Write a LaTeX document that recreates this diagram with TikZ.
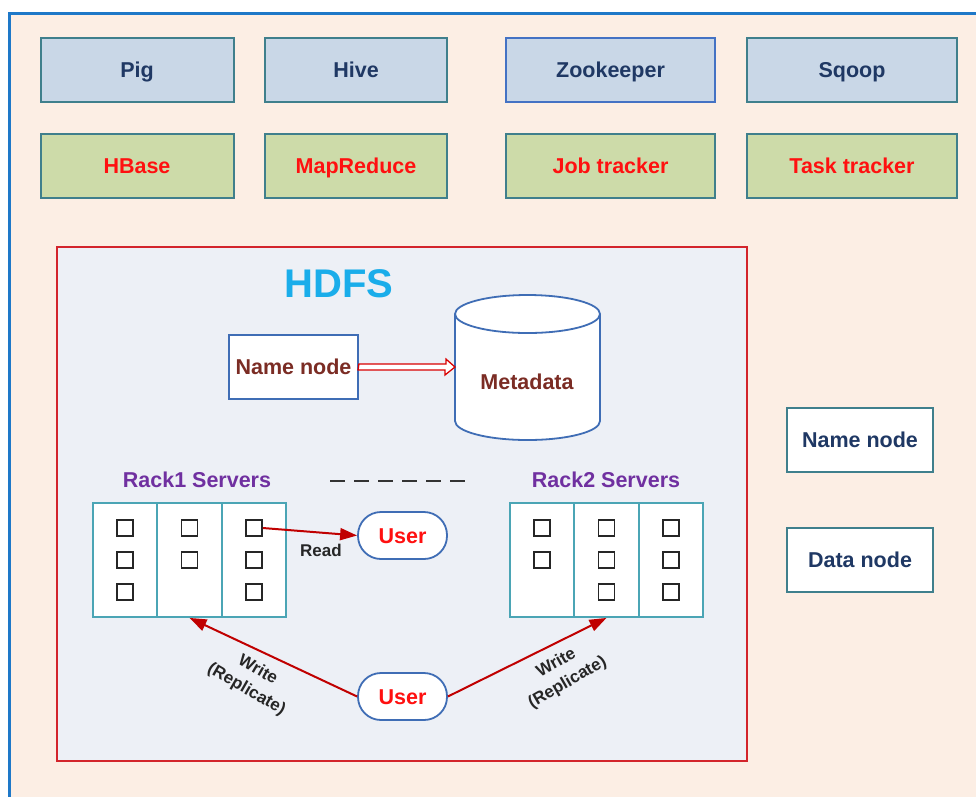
\documentclass[tikz,border=0pt]{standalone}
\usepackage{fontspec}
\setmainfont{Liberation Sans}
\usetikzlibrary{arrows.meta}
\definecolor{peach}{HTML}{FCEEE4}
\definecolor{outerblue}{HTML}{1E78C8}
\definecolor{topblue}{HTML}{C9D7E7}
\definecolor{topgreen}{HTML}{CDDBA9}
\definecolor{boxteal}{HTML}{3F7F8C}
\definecolor{zkblue}{HTML}{4472C4}
\definecolor{darkblue}{HTML}{1F3864}
\definecolor{txtred}{HTML}{FF1010}
\definecolor{hdfsred}{HTML}{D3242B}
\definecolor{hdfsbg}{HTML}{EDF0F6}
\definecolor{hdfscyan}{HTML}{1AADEA}
\definecolor{nnblue}{HTML}{3F6DB5}
\definecolor{brown}{HTML}{7B2C24}
\definecolor{purp}{HTML}{7030A0}
\definecolor{rackteal}{HTML}{4BA5B5}
\definecolor{arrowred}{HTML}{C00000}
\definecolor{dashgray}{HTML}{333333}
\tikzset{
  bigfont/.style={font=\fontsize{21.5}{25}\selectfont\bfseries, text height=15.5pt, text depth=0pt},
  topbox/.style={draw=boxteal, line width=2pt, fill=topblue, minimum height=64pt, inner sep=0pt, text=darkblue, bigfont},
  greenbox/.style={draw=boxteal, line width=2pt, fill=topgreen, minimum height=64pt, inner sep=0pt, text=txtred, bigfont},
  sidebox/.style={draw=boxteal, line width=2pt, fill=white, minimum width=146pt, minimum height=64pt, inner sep=0pt, text=darkblue, bigfont},
  rackcol/.style={draw=rackteal, line width=1.8pt, fill=white, minimum width=64.5pt, minimum height=114pt, inner sep=0pt},
  sq/.style={draw=black!85, line width=1.8pt, fill=white, minimum size=16pt, inner sep=0pt},
  userbox/.style={draw=nnblue, line width=1.8pt, fill=white, rounded corners=23pt, minimum width=89pt, minimum height=47pt, inner sep=0pt, text=txtred, bigfont},
  redarrow/.style={draw=arrowred, line width=2pt, -{Triangle[length=17pt,width=12pt]}},
  rackttl/.style={text=purp, bigfont},
  smallbl/.style={font=\fontsize{17}{22.5}\selectfont\bfseries, text=black!85, align=center, inner sep=0pt}
}
\begin{document}
\begin{tikzpicture}[x=1pt,y=-1pt]
\useasboundingbox (0,0) rectangle (976,796);
\clip (0,0) rectangle (976,796);
\fill[white] (0,0) rectangle (976,796);
\draw[outerblue, line width=3pt, fill=peach] (9,13) rectangle (1000,820);

% top rows
\node[topbox, minimum width=193pt] (pig) at (137,70) {Pig};
\node[topbox, minimum width=182pt] (hive) at (356,70) {Hive};
\node[topbox, draw=zkblue, minimum width=209pt] (zk) at (610.5,70) {Zookeeper};
\node[topbox, minimum width=210pt] (sqoop) at (852,70) {Sqoop};
\node[greenbox, minimum width=193pt] (hbase) at (137,166) {HBase};
\node[greenbox, minimum width=182pt] (mr) at (356,166) {MapReduce};
\node[greenbox, minimum width=209pt] (jt) at (610.5,166) {Job tracker};
\node[greenbox, minimum width=210pt] (tt) at (852,166) {Task tracker};

% side boxes
\node[sidebox] (sidenn) at (860,439.5) {Name node};
\node[sidebox] (sidedn) at (860,560) {Data node};

% HDFS area
\node[draw=hdfsred, line width=2.5pt, fill=hdfsbg, minimum width=690pt, minimum height=514pt, inner sep=0pt] (hdfs) at (402,504) {};
\node[text=hdfscyan, font=\fontsize{40}{44}\selectfont\bfseries] (hdfstitle) at (339,284) {HDFS};

\node[draw=nnblue, line width=1.8pt, fill=white, minimum width=129pt, minimum height=64pt, inner sep=0pt, text=brown, bigfont] (nn) at (293.5,367) {Name node};

% cylinder
\draw[nnblue, line width=1.8pt, fill=white] (455,314) -- (455,421) arc[start angle=180, end angle=360, x radius=72.5pt, y radius=19pt] -- (600,314) arc[start angle=0, end angle=180, x radius=72.5pt, y radius=19pt] -- cycle;
\draw[nnblue, line width=1.8pt] (455,314) arc[start angle=180, end angle=360, x radius=72.5pt, y radius=19pt];
\node[text=brown, bigfont] (meta) at (527,382) {Metadata};
\coordinate (metain) at (455,367);

% hollow arrow
\draw[draw=red!85!black, line width=1.3pt, fill=white] (nn.east) ++(0,-3) -- ++(87,0) -- ++(0,-5) -- (metain) -- ++(-10,8) -- ++(0,-5) -- ++(-87,0) -- cycle;

% racks
\node[rackttl] (r1title) at (197,480) {Rack1 Servers};
\node[rackttl] (r2title) at (606,480) {Rack2 Servers};
\coordinate (dashA) at (330,481);
\coordinate (dashB) at (467,481);
\draw[dashgray, line width=2pt, dash pattern=on 15pt off 9pt] (dashA) -- (dashB);

\node[rackcol] (r1a) at (125,560) {};
\node[rackcol] (r1b) at (189.5,560) {};
\node[rackcol] (r1c) at (254,560) {};
\node[rackcol] (r2a) at (542,560) {};
\node[rackcol] (r2b) at (606.5,560) {};
\node[rackcol] (r2c) at (671,560) {};

\node[sq] (s11) at (125,528) {};
\node[sq] (s12) at (125,560) {};
\node[sq] (s13) at (125,592) {};
\node[sq] (s21) at (189.5,528) {};
\node[sq] (s22) at (189.5,560) {};
\node[sq] (s31) at (254,528) {};
\node[sq] (s32) at (254,560) {};
\node[sq] (s33) at (254,592) {};

\node[sq] (t11) at (542,528) {};
\node[sq] (t12) at (542,560) {};
\node[sq] (t21) at (606.5,528) {};
\node[sq] (t22) at (606.5,560) {};
\node[sq] (t23) at (606.5,592) {};
\node[sq] (t31) at (671,528) {};
\node[sq] (t32) at (671,560) {};
\node[sq] (t33) at (671,592) {};

% users
\node[userbox] (user1) at (402.5,535.5) {User};
\node[userbox] (user2) at (402.5,696.5) {User};

\draw[redarrow] (s31.east) -- (user1.west);
\node[smallbl] (readlbl) at (321,550) {Read};

\draw[redarrow] (user2.west) -- (r1b.south);
\draw[redarrow] (user2.east) -- (r2b.south);
\node[smallbl, rotate=-30] (wl) at (252,680) {Write\\(Replicate)};
\node[smallbl, rotate=30] (wr) at (562,673) {Write\\(Replicate)};
\end{tikzpicture}
\end{document}
